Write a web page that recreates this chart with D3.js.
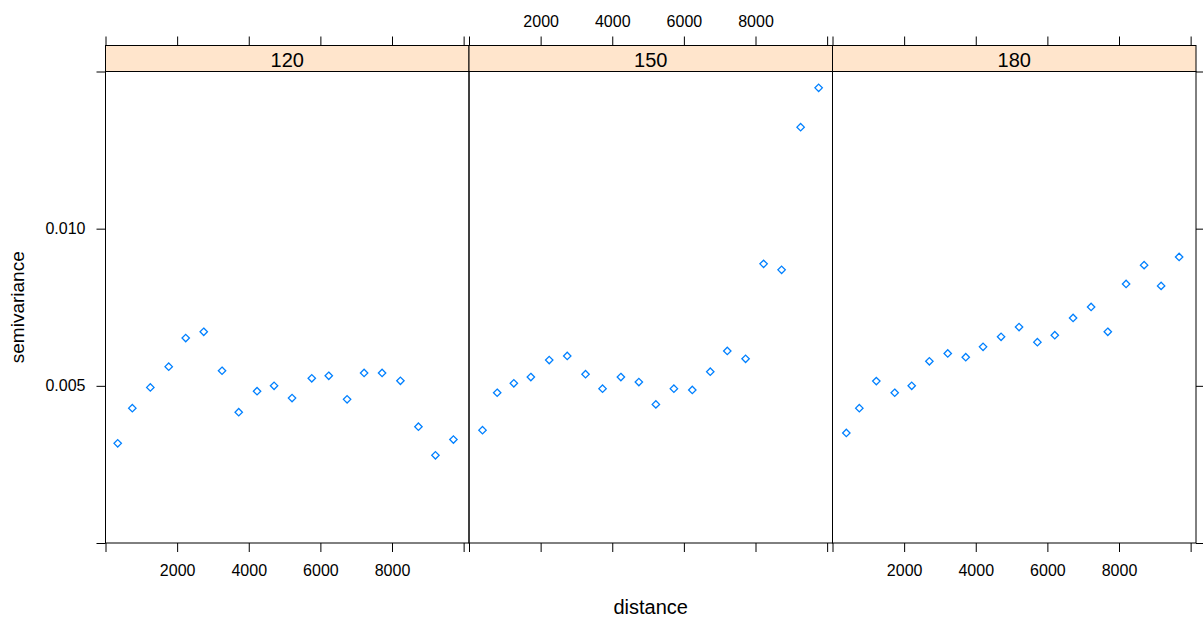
<!DOCTYPE html>
<html>
<head>
<meta charset="utf-8">
<script src="https://cdn.jsdelivr.net/npm/d3@7"></script>
<style>
  html, body { margin: 0; padding: 0; background: #fff; }
  svg { display: block; }
  text { font-family: "Liberation Sans", Arial, sans-serif; fill: #000; }
</style>
</head>
<body>
<svg id="chart" width="1203" height="621"></svg>
<script>
// Panel labels (conditioning levels)
const panels = ["120", "150", "180"];

// Distance bins and semivariance per panel
const dist120 = [341, 749, 1252, 1765, 2240, 2743, 3254, 3720, 4232, 4707,
                 5209, 5760, 6234, 6746, 7221, 7723, 8235, 8738, 9213, 9715];
const gamma120 = [0.00317, 0.00429, 0.00495, 0.00561, 0.00652, 0.00672, 0.00548, 0.00416, 0.00483, 0.00500,
                  0.00461, 0.00524, 0.00532, 0.00457, 0.00541, 0.00541, 0.00516, 0.00370, 0.00279, 0.00329];

const dist150 = [377, 787, 1252, 1727, 2240, 2743, 3254, 3729, 4241, 4743,
                 5218, 5721, 6235, 6737, 7212, 7723, 8226, 8729, 9260, 9763];
const gamma150 = [0.00359, 0.00478, 0.00508, 0.00528, 0.00582, 0.00595, 0.00537, 0.00491, 0.00528, 0.00512,
                  0.00441, 0.00491, 0.00487, 0.00545, 0.00611, 0.00586, 0.00888, 0.00869, 0.01323, 0.01448];

const dist180 = [386, 749, 1224, 1737, 2212, 2705, 3218, 3721, 4204, 4707,
                 5209, 5721, 6207, 6718, 7221, 7687, 8198, 8701, 9176, 9679];
const gamma180 = [0.00350, 0.00429, 0.00515, 0.00478, 0.00500, 0.00578, 0.00603, 0.00591, 0.00624, 0.00656,
                  0.00687, 0.00639, 0.00661, 0.00716, 0.00751, 0.00672, 0.00824, 0.00884, 0.00818, 0.00910];

// Axis ticks and labels
const xTicks = [0, 2000, 4000, 6000, 8000, 10000];
const xTickLabels = ["", "2000", "4000", "6000", "8000", ""];
const yTicks = [0, 0.005, 0.010, 0.015];
const yTickLabels = ["", "0.005", "0.010", ""];

const xDomain = [0, 10150];
const yDomain = [0, 0.015];

const series = [
  { name: panels[0], dist: dist120, gamma: gamma120 },
  { name: panels[1], dist: dist150, gamma: gamma150 },
  { name: panels[2], dist: dist180, gamma: gamma180 }
];

// Layout
const left = 105.5, right = 1196;
const stripTop = 45.5, panelTop = 71.5, panelBottom = 543;
const panelW = (right - left) / panels.length;
const tickLen = 9;
const pointColor = "#0080ff";
const stripFill = "#ffe5cc";

const svg = d3.select("#chart");

const y = d3.scaleLinear().domain(yDomain).range([panelBottom, panelTop]);

// Shared y axis on the left (labelled) and right (ticks only)
const yAxisL = d3.axisLeft(y).tickValues(yTicks)
  .tickFormat((d, i) => yTickLabels[i]).tickSizeInner(tickLen).tickSizeOuter(0).tickPadding(11);
const gyl = svg.append("g").attr("transform", `translate(${left},0)`).call(yAxisL);
gyl.select(".domain").remove();
gyl.selectAll("text").attr("font-size", 16).attr("font-family", "Liberation Sans, Arial, sans-serif");

const yAxisR = d3.axisRight(y).tickValues(yTicks)
  .tickFormat(() => "").tickSizeInner(tickLen).tickSizeOuter(0);
const gyr = svg.append("g").attr("transform", `translate(${right},0)`).call(yAxisR);
gyr.select(".domain").remove();

series.forEach((s, i) => {
  const x0 = left + i * panelW;
  const x = d3.scaleLinear().domain(xDomain).range([x0, x0 + panelW]);
  const g = svg.append("g");

  // Strip
  g.append("rect")
    .attr("x", x0).attr("y", stripTop)
    .attr("width", panelW).attr("height", panelTop - stripTop)
    .attr("fill", stripFill).attr("stroke", "#000").attr("stroke-width", 1);
  g.append("text")
    .attr("x", x0 + panelW / 2).attr("y", panelTop - 4.5)
    .attr("text-anchor", "middle").attr("font-size", 20)
    .text(s.name);

  // Panel frame
  g.append("rect")
    .attr("x", x0).attr("y", panelTop)
    .attr("width", panelW).attr("height", panelBottom - panelTop)
    .attr("fill", "none").attr("stroke", "#000").attr("stroke-width", 1);

  // Bottom ticks (labels on alternating panels)
  const showBottom = i % 2 === 0;
  const axB = d3.axisBottom(x).tickValues(xTicks)
    .tickFormat((d, k) => showBottom ? xTickLabels[k] : "")
    .tickSizeInner(tickLen).tickSizeOuter(0).tickPadding(13);
  const gb = g.append("g").attr("transform", `translate(0,${panelBottom})`).call(axB);
  gb.select(".domain").remove();
  gb.selectAll("text").attr("font-size", 16).attr("font-family", "Liberation Sans, Arial, sans-serif");

  // Top ticks above the strip
  const axT = d3.axisTop(x).tickValues(xTicks)
    .tickFormat((d, k) => showBottom ? "" : xTickLabels[k])
    .tickSizeInner(tickLen).tickSizeOuter(0).tickPadding(10);
  const gt = g.append("g").attr("transform", `translate(0,${stripTop})`).call(axT);
  gt.select(".domain").remove();
  gt.selectAll("text").attr("font-size", 16).attr("font-family", "Liberation Sans, Arial, sans-serif");

  // Points: open diamonds
  const r = 3.7;
  g.append("g").selectAll("path")
    .data(s.dist.map((d, k) => [d, s.gamma[k]]))
    .join("path")
    .attr("d", d => {
      const px = x(d[0]), py = y(d[1]);
      return `M${px},${py - r}L${px + r},${py}L${px},${py + r}L${px - r},${py}Z`;
    })
    .attr("fill", "none")
    .attr("stroke", pointColor)
    .attr("stroke-width", 1.3);
});

// Axis titles
svg.append("text")
  .attr("x", (left + right) / 2).attr("y", 614)
  .attr("text-anchor", "middle").attr("font-size", 20)
  .text("distance");

svg.append("text")
  .attr("transform", `translate(24,${(panelTop + panelBottom) / 2}) rotate(-90)`)
  .attr("text-anchor", "middle").attr("font-size", 19)
  .text("semivariance");
</script>
</body>
</html>
